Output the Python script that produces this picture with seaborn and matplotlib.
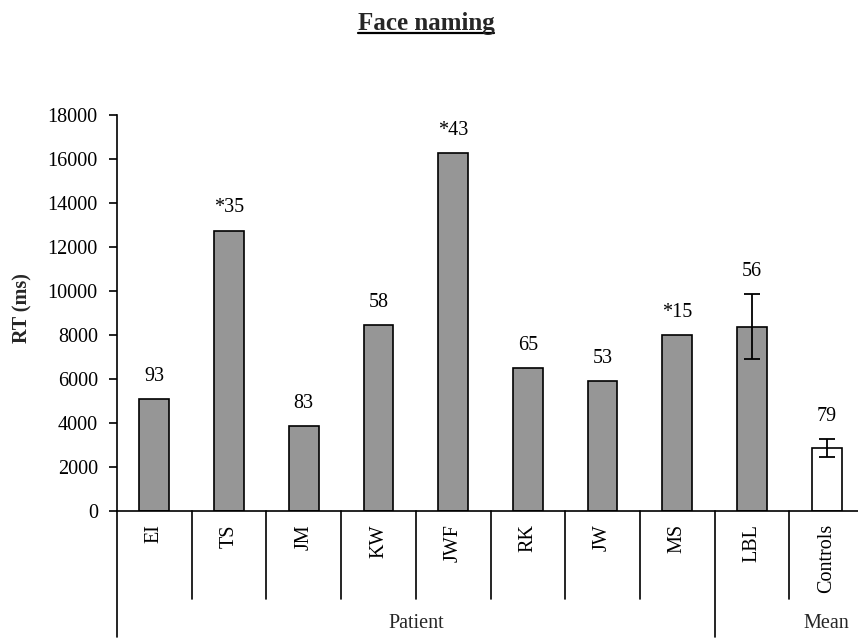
import matplotlib
matplotlib.use("Agg")
import matplotlib.pyplot as plt
from matplotlib.lines import Line2D
import seaborn as sns
import pandas as pd

# ---- data ----
categories = ["EI", "TS", "JM", "KW", "JWF", "RK", "JW", "MS", "LBL", "Controls"]
rt_values = [5100, 12750, 3860, 8450, 16250, 6500, 5900, 8000, 8380, 2870]
rt_errors = [0, 0, 0, 0, 0, 0, 0, 0, 1480, 400]
bar_labels = ["93", "*35", "83", "58", "*43", "65", "53", "*15", "56", "79"]
groups = ["Patient", "Mean"]
group_spans = [(0, 7), (8, 9)]
y_ticks = [0, 2000, 4000, 6000, 8000, 10000, 12000, 14000, 16000, 18000]

sns.set_theme(style="white")
plt.rcParams["font.family"] = ["Liberation Serif", "DejaVu Serif"]

W, H = 858, 639
fig = plt.figure(figsize=(W / 100, H / 100), dpi=100)
ax_left, ax_right, ax_bottom, ax_top = 117, 864, 511, 115
ax = fig.add_axes([ax_left / W, 1 - ax_bottom / H, (ax_right - ax_left) / W, (ax_bottom - ax_top) / H])

df = pd.DataFrame({"cat": categories, "rt": rt_values})
colors = ["#969696"] * 9 + ["#ffffff"]
sns.barplot(data=df, x="cat", y="rt", hue="cat", palette=colors, legend=False,
            width=0.4, edgecolor="black", linewidth=1.2, errorbar=None, ax=ax,
            saturation=1)

# error bars
for i, (v, e) in enumerate(zip(rt_values, rt_errors)):
    if e > 0:
        ax.errorbar(i, v, yerr=e, color="black", capsize=5.5, elinewidth=1.3,
                    capthick=1.3, fmt="none", zorder=5)

# value labels
for i, (v, e, lab) in enumerate(zip(rt_values, rt_errors, bar_labels)):
    ax.annotate(lab, (i, v + e), xytext=(0, 9.5), textcoords="offset points",
                ha="center", va="bottom", fontsize=14.5, color="black")

ax.set_xlim(-0.5, 9.5)
ax.set_ylim(0, 18000)
ax.set_yticks(y_ticks)
ax.set_yticklabels([str(t) for t in y_ticks], fontsize=14.5)
ax.set_xlabel("")
ax.set_ylabel("")
ax.tick_params(axis="y", direction="out", length=5.8, width=1.2, pad=8, colors="black",
               left=True)
ax.set_xticks(range(len(categories)))
ax.set_xticklabels(categories, rotation=90, fontsize=14.5, va="top", ha="center")
ax.tick_params(axis="x", length=0, pad=9.5, colors="black")
for s in ["top", "right"]:
    ax.spines[s].set_visible(False)
for s in ["left", "bottom"]:
    ax.spines[s].set_color("black")
    ax.spines[s].set_linewidth(1.2)

# divider lines below the axis
ah = ax_bottom - ax_top
short_y = -(599 - ax_bottom) / ah
long_y = -(637 - ax_bottom) / ah
trans = ax.get_xaxis_transform()
ax.add_line(Line2D([-0.5, -0.5], [0, long_y], transform=trans, color="black", lw=1.2, clip_on=False))
for g, (a, b) in enumerate(group_spans):
    for k in range(a, b):
        ax.add_line(Line2D([k + 0.5, k + 0.5], [0, short_y], transform=trans, color="black",
                           lw=1.2, clip_on=False))
    if g < len(group_spans) - 1:
        ax.add_line(Line2D([b + 0.5, b + 0.5], [0, long_y], transform=trans, color="black",
                           lw=1.2, clip_on=False))
group_y = -(623 - ax_bottom) / ah
ax.text(3.5, group_y, groups[0], transform=trans, ha="center", va="center", fontsize=14.5)
ax.text(9.0, group_y, groups[1], transform=trans, ha="center", va="center", fontsize=14.5)

# y label
fig.text(22 / W, 1 - 308 / H, "RT (ms)", rotation=90, ha="center", va="center",
         fontsize=14.5, fontweight="bold")

# title with underline
t = fig.text(426 / W, 1 - 30 / H, "Face naming", ha="center", va="baseline",
             fontsize=18, fontweight="bold")
fig.canvas.draw()
bb = t.get_window_extent(fig.canvas.get_renderer())
uy = (H - 33) / H
fig.add_artist(Line2D([bb.x0 / W, bb.x1 / W], [uy, uy], transform=fig.transFigure,
                      color="black", lw=1.6))

fig.savefig("out.png", dpi=100)
